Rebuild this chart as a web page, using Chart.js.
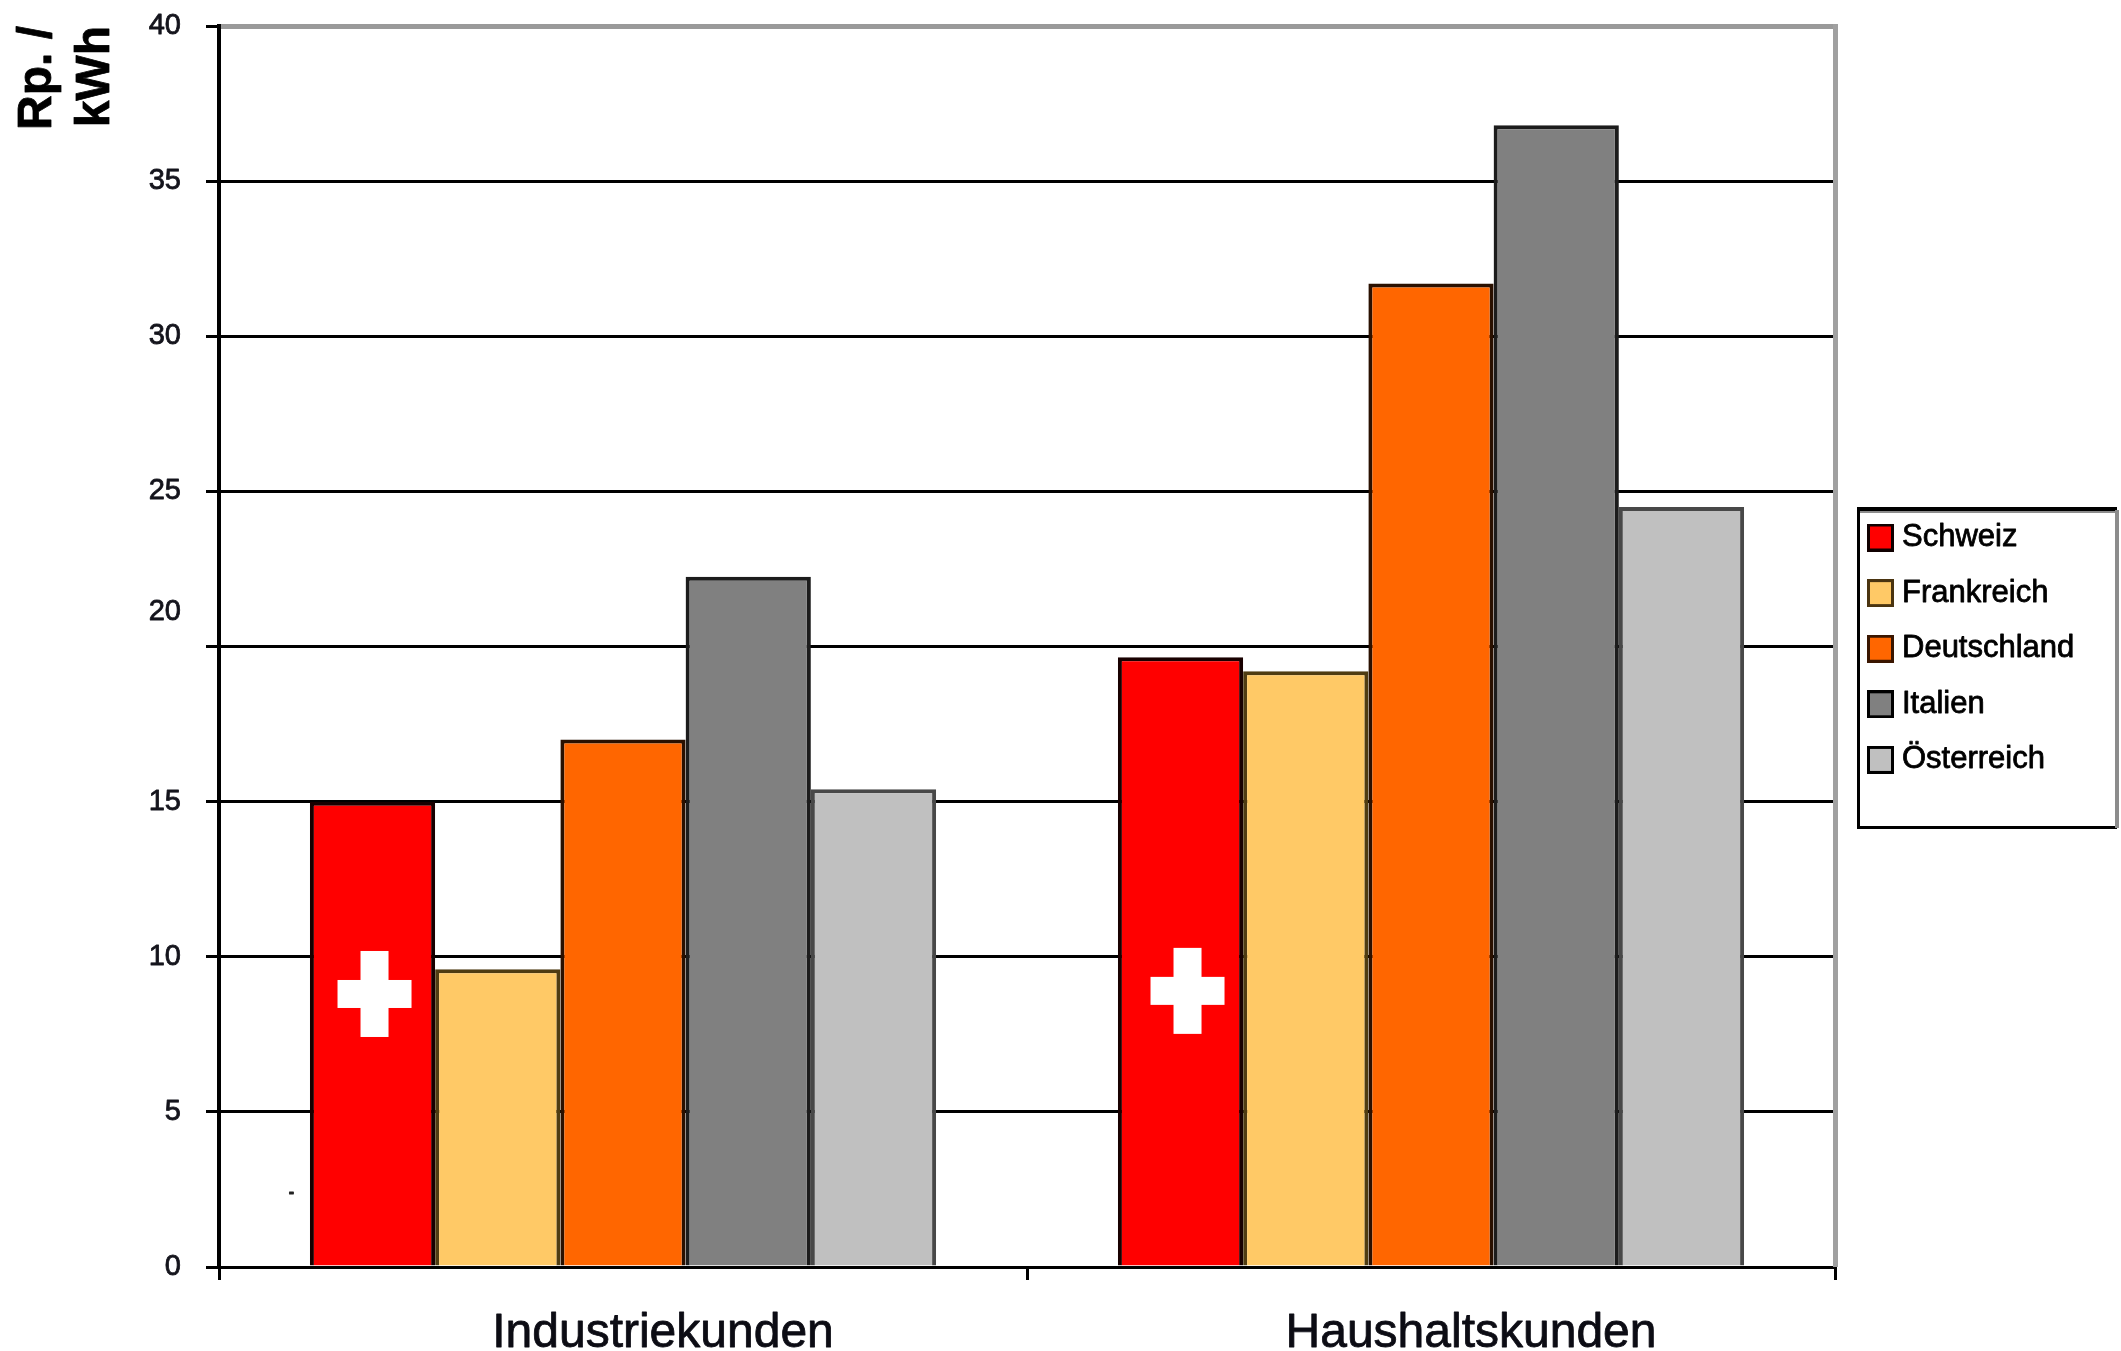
<!DOCTYPE html>
<html lang="de">
<head>
<meta charset="utf-8">
<title>Strompreise</title>
<script src="https://cdn.jsdelivr.net/npm/chart.js@4/dist/chart.umd.min.js"></script>
<style>
html,body{margin:0;padding:0;background:#fff;overflow:hidden}
canvas{display:block;filter:blur(.7px)}
</style>
</head>
<body>
<canvas id="c" width="2121" height="1351"></canvas>
<script>
const categories = ['Industriekunden', 'Haushaltskunden'];
const schweiz = [15.0, 19.65];
const frankreich = [9.6, 19.2];
const deutschland = [17.0, 31.7];
const italien = [22.25, 36.8];
const oesterreich = [15.4, 24.5];
const crossLevels = [8.8, 8.9];
const speckLevel = 2.4;
const seriesNames = ['Schweiz', 'Frankreich', 'Deutschland', 'Italien', 'Österreich'];
const fills = ['#ff0000', '#ffc966', '#ff6600', '#808080', '#c0c0c0'];
const edges = ['#180000', '#4f3c12', '#2a1000', '#1c1c1c', '#484848'];
const swatchEdges = ['#100000', '#4a3410', '#3a1600', '#000000', '#000000'];
const yTicks = [0, 5, 10, 15, 20, 25, 30, 35, 40];
const FONT = '"Liberation Sans", Arial, sans-serif';

function swatch(fill, edge) {
  const s = document.createElement('canvas');
  s.width = 27; s.height = 28;
  const g = s.getContext('2d');
  g.fillStyle = fill; g.fillRect(0, 0, 27, 28);
  g.strokeStyle = edge; g.lineWidth = 3; g.strokeRect(1.5, 1.5, 24, 25);
  return s;
}
const swatches = fills.map((f, i) => swatch(f, swatchEdges[i]));

const canvasEl = document.getElementById('c');
const ctx2d = canvasEl.getContext('2d');
const plainFill = ctx2d.fillText;
ctx2d.fillText = function (t, x, y, m) {
  if (m === undefined) plainFill.call(this, t, x, y); else plainFill.call(this, t, x, y, m);
  this.save();
  this.strokeStyle = this.fillStyle;
  this.lineWidth = 0.8;
  this.lineJoin = 'round';
  this.strokeText(t, x, y);
  this.restore();
};

const pagePlugin = {
  id: 'pagePlugin',
  beforeLayout(chart) {
    const lg = chart.legend;
    if (lg && !lg.__wrapped) {
      const fit = lg.fit;
      lg.fit = function () { fit.call(this); this.width = 286; };
      lg.__wrapped = true;
    }
  },
  afterLayout(chart) {
    const lg = chart.legend;
    lg.left = 1849.9; lg.top = 497.4;
  },
  beforeDatasetsDraw(chart) {
    const { ctx, chartArea: a } = chart;
    ctx.save();
    ctx.fillStyle = '#a0a0a0';
    ctx.fillRect(a.right - 2, a.top - 2, 5, a.bottom - a.top + 2);
    ctx.fillStyle = '#000';
    ctx.fillRect(1857, 507, 260, 4);
    ctx.fillRect(1857, 507, 3, 322);
    ctx.fillRect(1857, 826, 260, 3);
    ctx.fillStyle = '#8c8c8c';
    ctx.fillRect(2115, 510, 4, 318);
    ctx.fillRect(1860, 511, 255, 2);
    ctx.restore();
  },
  afterDatasetsDraw(chart) {
    const { ctx, scales: { y } } = chart;
    const bars = chart.getDatasetMeta(0).data;
    ctx.save();
    ctx.fillStyle = '#fff';
    [2, 7].forEach((dx, i) => {
      const cx = bars[i].x + dx, cy = y.getPixelForValue(crossLevels[i]);
      ctx.fillRect(cx - 37, cy - 14, 74, 28);
      ctx.fillRect(cx - 14, cy - 43, 28, 86);
    });
    ctx.fillStyle = '#222';
    ctx.font = 'bold 16px ' + FONT;
    ctx.textAlign = 'center';
    ctx.textBaseline = 'middle';
    ctx.fillText('-', bars[0].x - 81, y.getPixelForValue(speckLevel));
    ctx.restore();
  }
};

new Chart(canvasEl, {
  type: 'bar',
  data: {
    labels: categories,
    datasets: [schweiz, frankreich, deutschland, italien, oesterreich].map((d, i) => ({
      label: seriesNames[i],
      data: d,
      backgroundColor: fills[i],
      borderColor: edges[i],
      borderWidth: 4,
      categoryPercentage: 0.775,
      barPercentage: 1
    }))
  },
  plugins: [pagePlugin],
  options: {
    responsive: false,
    devicePixelRatio: 1,
    animation: false,
    layout: { padding: { top: 26, left: 0, right: 0, bottom: 0 } },
    plugins: {
      tooltip: { enabled: false },
      title: { display: false },
      legend: {
        position: 'right',
        align: 'start',
        labels: {
          color: '#0c0c14',
          font: { family: FONT, size: 31 },
          padding: 24.6,
          usePointStyle: true,
          pointStyleWidth: 12,
          boxHeight: 27,
          generateLabels: (chart) => chart.data.datasets.map((ds, i) => ({
            text: ds.label,
            fillStyle: ds.backgroundColor,
            strokeStyle: ds.borderColor,
            lineWidth: 0,
            pointStyle: swatches[i],
            datasetIndex: i,
            hidden: false
          }))
        }
      }
    },
    scales: {
      x: {
        afterFit(s) { s.height = 84; },
        grid: { drawOnChartArea: false, color: '#000', lineWidth: 3, tickLength: 13 },
        border: { color: '#000', width: 3 },
        ticks: {
          color: '#0c0c14',
          font: { family: FONT, size: 48 },
          labelOffset: 40,
          padding: 25,
          maxRotation: 0
        }
      },
      y: {
        min: 0,
        max: 40,
        afterFit(s) { s.width = 219; s.paddingTop = 0; s.paddingBottom = 0; },
        afterBuildTicks(s) { s.ticks = yTicks.map(v => ({ value: v })); },
        border: { color: '#000', width: 4 },
        grid: {
          color: (c) => c.tick && c.tick.value === 40 ? '#9a9a9a' : '#000',
          lineWidth: (c) => c.tick && c.tick.value === 40 ? 5 : 3,
          tickColor: '#000',
          tickWidth: 3,
          tickLength: 13
        },
        ticks: {
          color: '#14141c',
          font: { family: FONT, size: 29 },
          padding: 25,
          callback: (v) => v === 20 ? ['20', '', ''] : String(v)
        },
        title: {
          display: true,
          text: ['Rp. /', 'kWh'],
          align: 'end',
          color: '#000',
          font: { family: FONT, size: 48, weight: 'bold', lineHeight: 1.2 },
          padding: { top: 9, bottom: 0 }
        }
      }
    }
  }
});
</script>
</body>
</html>
